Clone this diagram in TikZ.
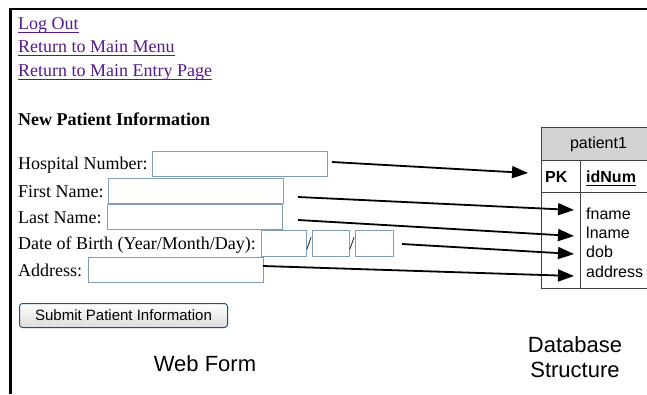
\documentclass[tikz,border=0pt]{standalone}
\usepackage{fontspec}
\setmainfont{Liberation Serif}
\setsansfont{Liberation Sans}
\usetikzlibrary{arrows.meta}
\definecolor{linkc}{HTML}{551A8B}
\definecolor{fieldc}{HTML}{7F9DB9}
\definecolor{btnc}{HTML}{1F4E85}
\definecolor{tblc}{HTML}{404040}
\definecolor{hdrc}{HTML}{D3D3D3}
\newcommand\myul[1]{\setbox0\hbox{#1}\rlap{\rule[-3.5pt]{\wd0}{1pt}}\box0}
\begin{document}
\begin{tikzpicture}[x=1pt,y=-1pt,
  lbl/.style={anchor=base west,inner sep=0pt,font=\fontsize{18}{20}\selectfont},
  link/.style={lbl,text=linkc},
  field/.style={draw=fieldc,line width=1pt,fill=white,inner sep=0pt,anchor=north west,minimum height=25pt},
  dbtxt/.style={anchor=base west,inner sep=0pt,font=\sffamily\fontsize{16}{18}\selectfont},
  captxt/.style={anchor=base,inner sep=0pt,font=\sffamily\fontsize{22}{26}\selectfont},
  conn/.style={line width=1.8pt,-{Triangle[length=16pt,width=12pt]}},
  tbl/.style={draw=tblc,line width=1pt}
]
\useasboundingbox (0,0) rectangle (647,394);
\fill[white] (0,0) rectangle (647,394);
\begin{scope}
\clip (0,0) rectangle (647,394);
% frame
\draw[line width=2.5pt] (10.5,394) -- (10.5,9) -- (647,9);

% links
\node[link] (logout) at (18,29) {\myul{Log Out}};
\node[link] (mainmenu) at (18,52.5) {\myul{Return to Main Menu}};
\node[link] (mainentry) at (18,76) {\myul{Return to Main Entry Page}};
\node[lbl,font=\bfseries\fontsize{18}{20}\selectfont] (title) at (18,125) {New Patient Information};

% labels
\node[lbl] (lhosp) at (18,169) {Hospital Number:};
\node[lbl] (lfirst) at (18,197) {First Name:};
\node[lbl] (llast) at (18,223) {Last Name:};
\node[lbl] (ldob) at (18,249) {Date of Birth (Year/Month/Day):};
\node[lbl] (laddr) at (18,276) {Address:};

% fields
\node[field,minimum width=175pt] (fhosp) at (152,151) {};
\node[field,minimum width=175pt] (ffirst) at (108,178) {};
\node[field,minimum width=175pt] (flast) at (107,204) {};
\node[field,minimum width=45pt,minimum height=26pt] (fyear) at (261,230) {};
\node[field,minimum width=37pt,minimum height=26pt] (fmonth) at (312,230) {};
\node[field,minimum width=38pt,minimum height=26pt] (fday) at (355,230) {};
\node[field,minimum width=175pt] (faddr) at (88,257) {};
\node[lbl] (sl1) at (306.5,249) {/};
\node[lbl] (sl2) at (349.5,249) {/};

% button
\node[draw=btnc,line width=1pt,rounded corners=3pt,top color=white,bottom color=black!14,
      minimum width=208pt,minimum height=24pt,anchor=north west,inner sep=0pt,
      font=\sffamily\fontsize{15}{17}\selectfont] (submit) at (19,303) {Submit Patient Information};

% captions
\node[captxt] (webform) at (205,371) {Web Form};
\node[captxt] (db1) at (575,352) {Database};
\node[captxt] (db2) at (575,377) {Structure};

% table
\node[tbl,fill=hdrc,minimum width=114pt,minimum height=33pt,anchor=north west,inner sep=0pt,
      font=\sffamily\fontsize{16}{18}\selectfont] (hdr) at (541,127) {patient1};
\draw[tbl] (541,160) rectangle (655,288);
\draw[tbl] (541,192) -- (655,192);
\draw[tbl] (580,160) -- (580,288);
\node[dbtxt,font=\sffamily\bfseries\fontsize{16}{18}\selectfont] (pk) at (545,182) {PK};
\node[dbtxt,font=\sffamily\bfseries\fontsize{16}{18}\selectfont] (idnum) at (586,182) {\myul{idNum}};
\node[dbtxt] (fname) at (586,219) {fname};
\node[dbtxt] (lname) at (586,238) {lname};
\node[dbtxt] (dob) at (586,257) {dob};
\node[dbtxt] (address) at (586,277) {address};

% connectors
\coordinate (s1) at (332,162);
\coordinate (t1) at (528,173);
\coordinate (s2) at (298,197);
\coordinate (t2) at (574,210);
\coordinate (s3) at (298,220);
\coordinate (t3) at (574,236);
\coordinate (s4) at (402,244);
\coordinate (t4) at (574,254);
\coordinate (s5) at (263,266);
\coordinate (t5) at (574,276);
\draw[conn] (s1) -- (t1);
\draw[conn] (s2) -- (t2);
\draw[conn] (s3) -- (t3);
\draw[conn] (s4) -- (t4);
\draw[conn] (s5) -- (t5);
\end{scope}
\end{tikzpicture}
\end{document}
